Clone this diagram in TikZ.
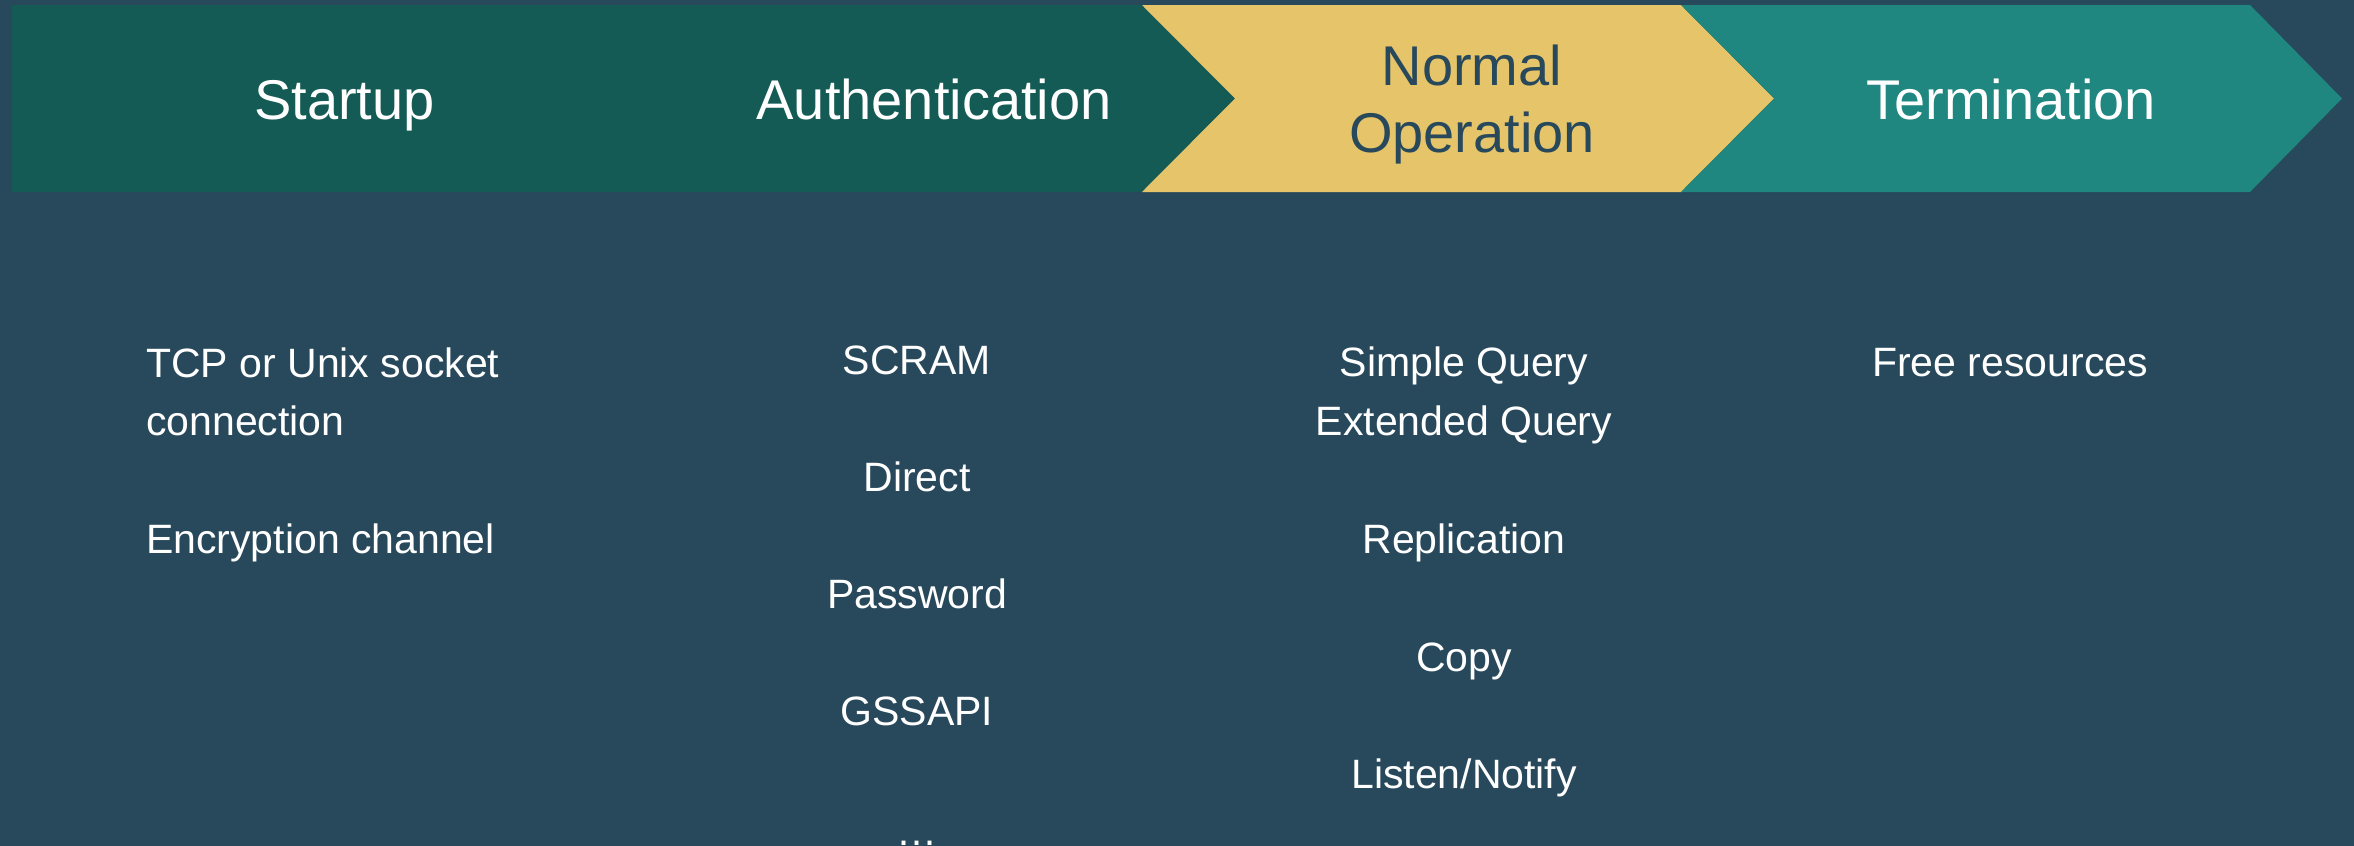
\documentclass[tikz,border=0pt]{standalone}
\usepackage{fontspec}
\setmainfont{Liberation Sans}
\definecolor{bgblue}{RGB}{40,73,91}
\definecolor{deepgreen}{RGB}{21,91,85}
\definecolor{goldband}{RGB}{230,196,106}
\definecolor{tealband}{RGB}{31,135,127}
\tikzset{
  phasetitle/.style={anchor=base, inner sep=0pt, text=white, font=\fontsize{56}{67}\selectfont},
  itemtext/.style={anchor=base, inner sep=0pt, text=white, font=\fontsize{41}{58}\selectfont},
  itemleft/.style={itemtext, anchor=base west}
}
\begin{document}
\begin{tikzpicture}[x=1pt,y=-1pt]
  % canvas
  \fill[bgblue] (0,0) rectangle (2354,846);
  \useasboundingbox (0,0) rectangle (2354,846);

  % phase banner
  \fill[deepgreen] (12,5) -- (1142,5) -- (1235,98.5) -- (1142,192) -- (12,192) -- cycle;
  \fill[goldband] (1142,5) -- (1681,5) -- (1774,98.5) -- (1681,192) -- (1142,192) -- (1235,98.5) -- cycle;
  \fill[tealband] (1681,5) -- (2250,5) -- (2342,98.5) -- (2250,192) -- (1681,192) -- (1774,98.5) -- cycle;

  % phase titles
  \node[phasetitle] (startup) at (344.5,119) {Startup};
  \node[phasetitle] (auth) at (934,119) {Authentication};
  \node[phasetitle, text=bgblue] (normal1) at (1472,85) {Normal};
  \node[phasetitle, text=bgblue] (normal2) at (1472,152) {Operation};
  \node[phasetitle] (term) at (2011,119) {Termination};

  % startup details
  \node[itemleft] (tcp1) at (146,377) {TCP or Unix socket};
  \node[itemleft] (tcp2) at (146,435) {connection};
  \node[itemleft] (enc) at (146,553) {Encryption channel};

  % authentication methods
  \node[itemtext] (scram) at (917,374) {SCRAM};
  \node[itemtext] (direct) at (917,491) {Direct};
  \node[itemtext] (password) at (917,608) {Password};
  \node[itemtext] (gssapi) at (917,725) {GSSAPI};
  \node[itemtext] (more) at (917,845) {…};

  % normal operation sub-protocols
  \node[itemtext] (simple) at (1464,376) {Simple Query};
  \node[itemtext] (extended) at (1464,435) {Extended Query};
  \node[itemtext] (repl) at (1464,553) {Replication};
  \node[itemtext] (copy) at (1464,671) {Copy};
  \node[itemtext] (listen) at (1464,788) {Listen/Notify};

  % termination
  \node[itemtext] (free) at (2010,376) {Free resources};
\end{tikzpicture}
\end{document}
